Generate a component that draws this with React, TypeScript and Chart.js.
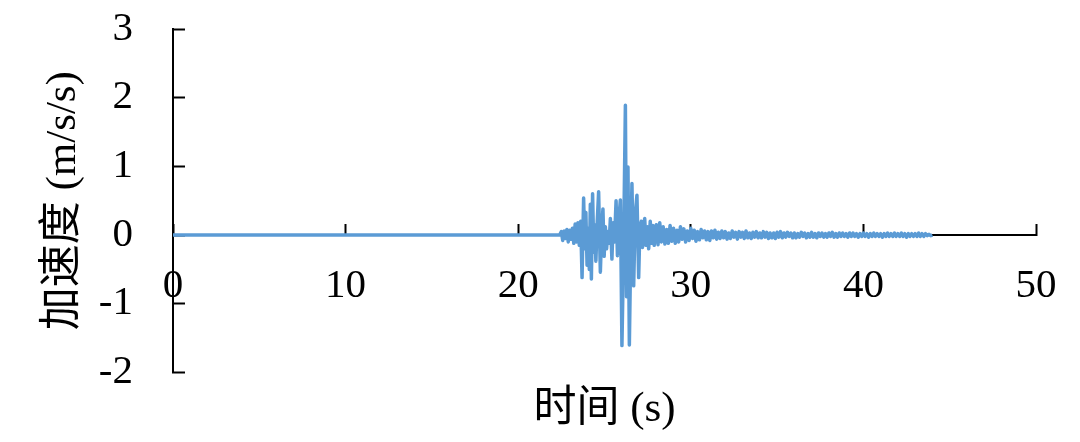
import React, { useEffect, useRef } from "react";
import Chart from "chart.js/auto";

// Quiet part of the record (s, m/s/s)
const QUIET_TIME = [0, 22.4];
const QUIET_ACCEL = [0, 0];

// Strong-motion burst
const BURST_TIME = [
  22.5, 22.58, 22.66, 22.74, 22.82, 22.9, 22.98, 23.06, 23.14, 23.22,
  23.3, 23.38, 23.46, 23.54, 23.62, 23.7, 23.79, 23.86, 23.92, 23.99,
  24.06, 24.12, 24.18, 24.24, 24.31, 24.38, 24.44, 24.5, 24.58, 24.66,
  24.76, 24.84, 24.91, 24.98, 25.05, 25.12, 25.2, 25.27, 25.34, 25.43,
  25.5, 25.58, 25.67, 25.75, 25.82, 25.92, 26.01, 26.1, 26.21, 26.28,
  26.36, 26.44, 26.52, 26.59, 26.69, 26.78, 26.88, 26.98, 27.05, 27.13,
  27.2, 27.27, 27.33, 27.4, 27.48, 27.56, 27.65, 27.72, 27.8, 27.88, 27.96,
];
const BURST_ACCEL = [
  0.05, -0.08, 0.06, -0.05, 0.08, -0.1, 0.07, -0.06, 0.1, -0.12,
  0.16, -0.1, 0.18, -0.15, 0.2, -0.62, 0.54, -0.2, 0.33, -0.44,
  0.1, -0.5, 0.45, -0.64, 0.6, -0.25, 0.15, -0.38, 0.2, 0.63,
  -0.54, 0.1, 0.38, -0.31, 0.12, -0.2, 0.05, -0.12, 0.24, -0.35,
  0.18, -0.1, 0.5, -0.3, 0.2, 0.51, -1.61, -0.3, 1.89, -0.9,
  0.99, -1.6, -0.2, 0.75, -0.74, 0.3, 0.58, -0.62, 0.1, 0.2,
  -0.18, 0.1, 0.24, -0.15, 0.12, -0.2, 0.2, -0.12, 0.14, -0.15, 0.12,
];

// Decaying coda, sampled every 0.1 s from 28.0 s
const TAIL_START = 28.0;
const TAIL_STEP = 0.1;
const TAIL_ACCEL = [
  0.15, -0.14, 0.18, -0.1, 0.12, -0.13, 0.08, -0.12, 0.14, -0.09,
  0.1, -0.12, 0.07, -0.1, 0.12, -0.06, 0.09, -0.1, 0.06, -0.08,
  0.1, -0.05, 0.07, -0.09, 0.05, -0.07, 0.08, -0.04, 0.06, -0.07,
  0.05, -0.08, 0.06, -0.04, 0.07, -0.06, 0.04, -0.05, 0.06, -0.04,
  0.05, -0.06, 0.03, -0.05, 0.06, -0.03, 0.04, -0.06, 0.05, -0.03,
  0.04, -0.05, 0.06, -0.04, 0.03, -0.05, 0.04, -0.03, 0.05, -0.04,
  0.03, -0.04, 0.05, -0.03, 0.04, -0.05, 0.03, -0.04, 0.03, -0.05,
  0.04, -0.03, 0.05, -0.04, 0.03, -0.03, 0.04, -0.02, 0.03, -0.04,
  0.03, -0.04, 0.02, -0.03, 0.04, -0.02, 0.03, -0.04, 0.02, -0.03,
  0.04, -0.03, 0.02, -0.04, 0.03, -0.02, 0.03, -0.03, 0.02, -0.03,
  0.03, -0.02, 0.04, -0.03, 0.02, -0.03, 0.03, -0.02, 0.03, -0.02,
  0.02, -0.03, 0.03, -0.02, 0.03, -0.02, 0.02, -0.03, 0.02, -0.02,
  0.03, -0.02, 0.02, -0.03, 0.02, -0.02, 0.03, -0.02, 0.02, -0.02,
  0.02, -0.03, 0.02, -0.02, 0.03, -0.02, 0.02, -0.02, 0.03, -0.02,
  0.02, -0.02, 0.03, -0.02, 0.02, -0.03, 0.02, -0.02, 0.02, -0.02,
  0.02, -0.02, 0.03, -0.02, 0.02, -0.02, 0.02, -0.01, 0.01, -0.01,
  0,
];

const X_MIN = 0;
const X_MAX = 50;
const X_STEP = 10;
const Y_MIN = -2;
const Y_MAX = 3;
const Y_STEP = 1;
const X_TITLE = "时间 (s)";
const Y_TITLE = "加速度 (m/s/s)";

const FONT_FAMILY = "'Liberation Serif', 'Times New Roman', 'Noto Sans CJK SC', serif";
const LINE_COLOR = "#5B9BD5";

export default function App() {
  const canvasRef = useRef<HTMLCanvasElement | null>(null);

  useEffect(() => {
    document.body.style.margin = "0";
    const canvas = canvasRef.current;
    if (!canvas) return;

    const points: { x: number; y: number }[] = [];
    QUIET_TIME.forEach((t, i) => points.push({ x: t, y: QUIET_ACCEL[i] }));
    BURST_TIME.forEach((t, i) => points.push({ x: t, y: BURST_ACCEL[i] }));
    TAIL_ACCEL.forEach((v, i) =>
      points.push({ x: +(TAIL_START + i * TAIL_STEP).toFixed(2), y: v })
    );

    const font = { family: FONT_FAMILY, size: 41, lineHeight: 1.2, weight: "normal" as const };
    const titleFont = { family: FONT_FAMILY, size: 43, lineHeight: 1.2, weight: "normal" as const };

    const chart = new Chart(canvas, {
      type: "line",
      data: {
        datasets: [
          {
            data: points,
            borderColor: LINE_COLOR,
            backgroundColor: LINE_COLOR,
            borderWidth: 3.5,
            borderJoinStyle: "round",
            pointRadius: 0,
            tension: 0,
            fill: false,
          },
        ],
      },
      options: {
        animation: false,
        responsive: true,
        maintainAspectRatio: false,
        layout: { padding: { left: 0, top: 29, right: 44, bottom: 6 } },
        plugins: {
          legend: { display: false },
          tooltip: { enabled: false },
          title: {
            display: true,
            position: "bottom",
            fullSize: false,
            text: X_TITLE,
            color: "#000",
            font: titleFont,
            padding: { top: 12, bottom: 0 },
          },
        },
        scales: {
          x: {
            type: "linear",
            position: { y: 0 },
            min: X_MIN,
            max: X_MAX,
            afterFit: (scale: any) => {
              scale.paddingLeft = 0;
              scale.paddingRight = 0;
            },
            grid: {
              drawOnChartArea: false,
              drawTicks: true,
              tickLength: -12,
              tickColor: "#000",
              tickWidth: 2,
              color: "#000",
            },
            border: { display: true, color: "#000", width: 2 },
            ticks: {
              stepSize: X_STEP,
              color: "#000",
              font,
              padding: 39,
              maxRotation: 0,
            },
          },
          y: {
            type: "linear",
            position: "left",
            min: Y_MIN,
            max: Y_MAX,
            afterFit: (scale: any) => {
              scale.width = 173;
              scale.paddingTop = 0;
              scale.paddingBottom = 0;
            },
            grid: {
              drawOnChartArea: false,
              drawTicks: true,
              tickLength: -12,
              tickColor: "#000",
              tickWidth: 2,
              color: "#000",
            },
            border: { display: true, color: "#000", width: 2 },
            ticks: {
              stepSize: Y_STEP,
              color: "#000",
              font,
              padding: 52,
            },
            title: {
              display: true,
              text: Y_TITLE,
              color: "#000",
              font: titleFont,
              padding: { top: 38, bottom: 0 },
            },
          },
        },
      },
    });

    return () => chart.destroy();
  }, []);

  return (
    <div style={{ width: 1080, height: 442, position: "relative", background: "#fff" }}>
      <canvas ref={canvasRef} />
    </div>
  );
}
